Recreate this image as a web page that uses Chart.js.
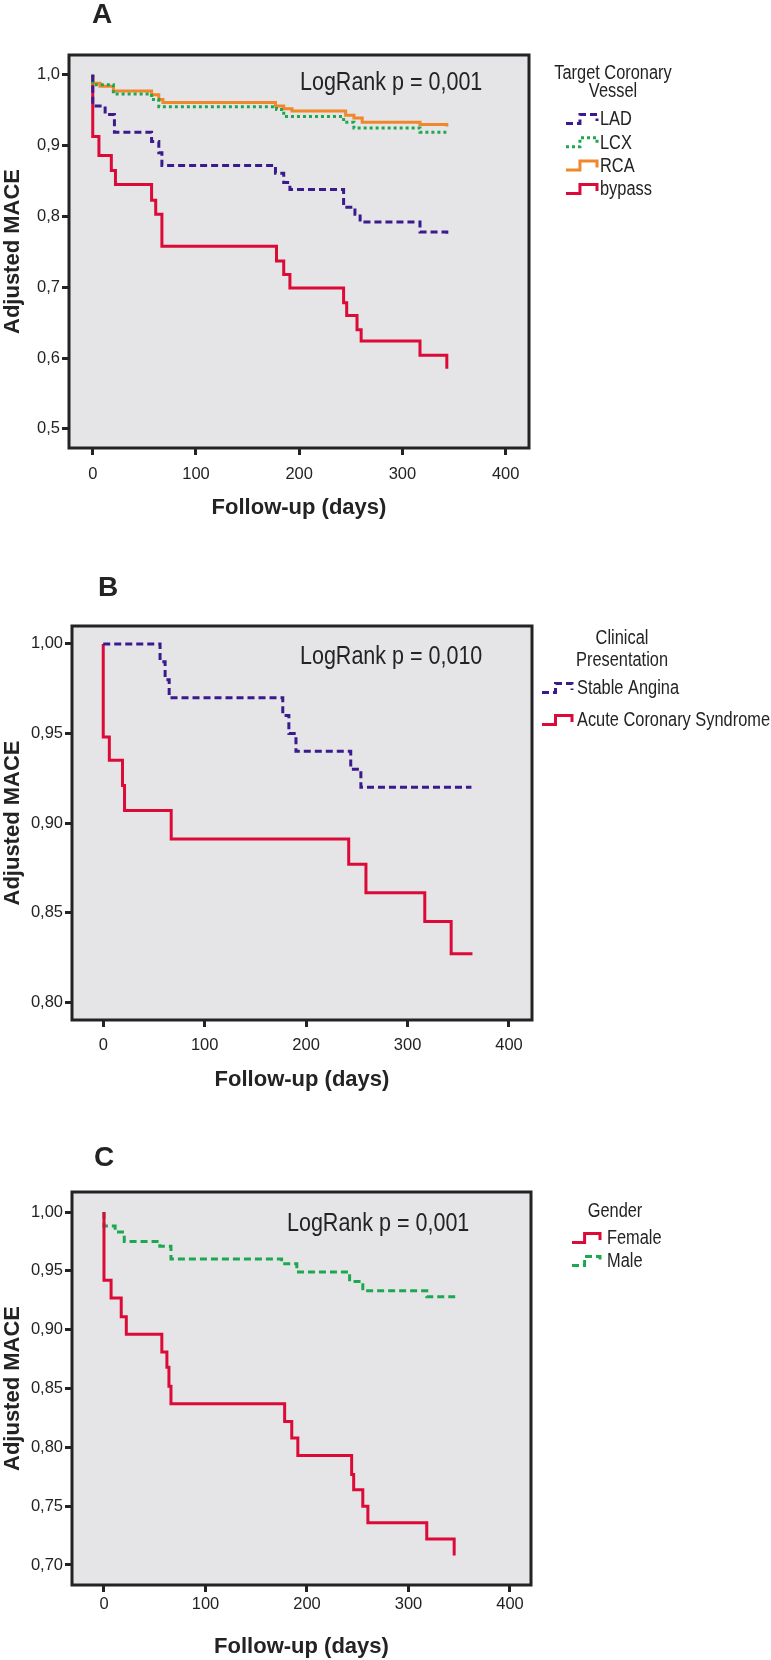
<!DOCTYPE html>
<html lang="en">
<head>
<meta charset="UTF-8">
<title>Adjusted MACE - follow-up</title>
<script src="https://cdn.jsdelivr.net/npm/chart.js"></script>
<style>
  body { margin: 0; background: #fff; width: 771px; height: 1660px; position: relative; overflow: hidden; }
  canvas { position: absolute; left: 0; }
</style>
</head>
<body>
<canvas id="chartA" width="771" height="540" style="top:0px"></canvas>
<canvas id="chartB" width="771" height="540" style="top:560px"></canvas>
<canvas id="chartC" width="771" height="540" style="top:1120px"></canvas>
<script>
// ---- data ----
var xTicks = [0, 100, 200, 300, 400];
var xTickLabels = ['0', '100', '200', '300', '400'];

// A: target coronary vessel
var seriesA = ['LAD', 'LCX', 'RCA', 'bypass'];
var ladDays = [0, 0, 12, 21, 57, 64, 67, 177, 185, 191, 243, 254, 259, 317, 343];
var ladSurv = [1, 0.956, 0.944, 0.919, 0.906, 0.890, 0.872, 0.861, 0.848, 0.838, 0.813, 0.803, 0.792, 0.778, 0.770];
var lcxDays = [0, 0, 20, 57, 64, 178, 185, 243, 253, 317, 343];
var lcxSurv = [1, 0.986, 0.973, 0.965, 0.955, 0.951, 0.941, 0.933, 0.925, 0.919, 0.916];
var rcaDays = [0, 0, 7, 20, 57, 64, 68, 177, 185, 193, 245, 253, 261, 317, 343];
var rcaSurv = [1, 0.988, 0.984, 0.977, 0.972, 0.965, 0.961, 0.956, 0.952, 0.949, 0.943, 0.939, 0.933, 0.930, 0.927];
var bypassDays = [0, 0, 6, 18, 22, 57, 61, 67, 178, 185, 191, 243, 246, 256, 260, 317, 343];
var bypassSurv = [1, 0.913, 0.886, 0.865, 0.845, 0.823, 0.803, 0.758, 0.737, 0.718, 0.699, 0.678, 0.660, 0.640, 0.624, 0.604, 0.585];
var yTicksA = [0.5, 0.6, 0.7, 0.8, 0.9, 1.0];
var yTickLabelsA = ['0,5', '0,6', '0,7', '0,8', '0,9', '1,0'];

// B: clinical presentation
var seriesB = ['Stable Angina', 'Acute Coronary Syndrome'];
var stableDays = [0, 56, 61, 65, 177, 183, 190, 244, 254, 363];
var stableSurv = [1, 0.990, 0.980, 0.970, 0.960, 0.950, 0.940, 0.930, 0.920, 0.920];
var acsDays = [0, 0, 6, 19, 21, 67, 242, 259, 317, 343, 364];
var acsSurv = [1, 0.948, 0.935, 0.921, 0.907, 0.891, 0.877, 0.861, 0.845, 0.827, 0.827];
var yTicksB = [0.80, 0.85, 0.90, 0.95, 1.00];
var yTickLabelsB = ['0,80', '0,85', '0,90', '0,95', '1,00'];

// C: gender
var seriesC = ['Female', 'Male'];
var femaleDays = [0, 0, 7, 17, 22, 57, 62, 64, 66, 178, 185, 191, 244, 246, 255, 260, 318, 345];
var femaleSurv = [1, 0.942, 0.927, 0.911, 0.896, 0.881, 0.868, 0.852, 0.837, 0.822, 0.808, 0.793, 0.777, 0.764, 0.750, 0.736, 0.722, 0.708];
var maleDays = [0, 0, 11, 20, 55, 66, 175, 190, 242, 255, 318, 346];
var maleSurv = [1, 0.988, 0.983, 0.975, 0.971, 0.960, 0.956, 0.949, 0.941, 0.933, 0.928, 0.928];
var yTicksC = [0.70, 0.75, 0.80, 0.85, 0.90, 0.95, 1.00];
var yTickLabelsC = ['0,70', '0,75', '0,80', '0,85', '0,90', '0,95', '1,00'];

// ---- styles ----
var family = "'Liberation Sans', Arial, sans-serif";
var ink = '#232323';
var plotBg = '#e5e5e8';
var purple = 'rgb(58,26,140)';
var green = 'rgb(28,168,78)';
var orange = 'rgb(240,135,42)';
var red = 'rgb(220,10,55)';
var dashed = [7, 4];
var dotted = [3, 3];
var narrow = 0.84; // horizontal squeeze for the hand drawn labels (narrow sans look)

Chart.defaults.font.family = family;
Chart.defaults.color = ink;

function pts(days, surv) {
  return days.map(function (d, i) { return { x: d, y: surv[i] }; });
}

function km(label, days, surv, color, dash) {
  return {
    label: label,
    data: pts(days, surv),
    borderColor: color,
    borderWidth: 3,
    borderDash: dash || [],
    stepped: 'before',
    pointRadius: 0,
    fill: false
  };
}

function narrowText(ctx, text, x, y, font, align, sx) {
  ctx.save();
  ctx.translate(x, y);
  ctx.scale(sx, 1);
  ctx.font = font;
  ctx.textAlign = align;
  ctx.fillText(text, 0, 0);
  ctx.restore();
}

// frame, background, panel letter, log-rank text and the step legend
var panelDecor = {
  id: 'panelDecor',
  beforeDraw: function (chart) {
    var a = chart.chartArea, ctx = chart.ctx;
    ctx.save();
    ctx.fillStyle = plotBg;
    ctx.fillRect(a.left, a.top, a.right - a.left, a.bottom - a.top);
    ctx.restore();
  },
  afterDraw: function (chart, args, o) {
    var a = chart.chartArea, ctx = chart.ctx;
    ctx.save();
    ctx.strokeStyle = ink;
    ctx.lineWidth = 3;
    ctx.setLineDash([]);
    ctx.strokeRect(a.left, a.top, a.right - a.left, a.bottom - a.top);

    ctx.fillStyle = ink;
    ctx.textBaseline = 'middle';
    narrowText(ctx, o.letter, o.letterX, o.letterY, 'bold 28px ' + family, 'center', 1);

    ctx.textBaseline = 'alphabetic';
    narrowText(ctx, o.pText, o.pX, o.pY, '25px ' + family, 'left', 0.86);

    // legend
    ctx.textBaseline = 'middle';
    o.legTitle.forEach(function (t, i) {
      narrowText(ctx, t, o.legTitleX, o.legTitleY[i], '19.5px ' + family, 'center', narrow);
    });
    chart.data.datasets.forEach(function (ds, i) {
      var cy = o.legRowY + i * o.legRowGap;
      var x0 = o.glyphX, w = o.glyphW;
      ctx.strokeStyle = ds.borderColor;
      ctx.lineWidth = 3;
      ctx.setLineDash(ds.borderDash || []);
      ctx.beginPath();
      ctx.moveTo(x0, cy + 3.5);
      ctx.lineTo(x0 + w * 0.45, cy + 3.5);
      ctx.lineTo(x0 + w * 0.45, cy - 5.5);
      ctx.lineTo(x0 + w, cy - 5.5);
      ctx.lineTo(x0 + w, cy + 1);
      ctx.stroke();
      ctx.setLineDash([]);
      ctx.fillStyle = ink;
      narrowText(ctx, ds.label, o.textX, cy, '19.5px ' + family, 'left', narrow);
    });
    ctx.restore();
  }
};

function makeChart(id, datasets, p) {
  return new Chart(document.getElementById(id), {
    type: 'line',
    data: { datasets: datasets },
    plugins: [panelDecor],
    options: {
      responsive: false,
      animation: false,
      layout: { padding: p.padding },
      plugins: {
        legend: { display: false },
        tooltip: { enabled: false },
        panelDecor: p.decor
      },
      scales: {
        x: {
          type: 'linear',
          min: p.xMin, max: p.xMax,
          afterFit: function (axis) { axis.height = p.xHeight; },
          afterBuildTicks: function (axis) {
            axis.ticks = xTicks.map(function (v) { return { value: v }; });
          },
          ticks: {
            padding: p.xTickPad,
            font: { size: 16.5 },
            color: ink,
            callback: function (v) { return xTickLabels[xTicks.indexOf(v)]; }
          },
          grid: { drawOnChartArea: false, drawTicks: true, tickLength: 7, lineWidth: 3, color: ink },
          border: { display: false },
          title: {
            display: true,
            text: 'Follow-up (days)',
            font: { size: 22, weight: 'bold', lineHeight: 1 },
            color: ink,
            padding: { top: 0, bottom: p.xTitlePad }
          }
        },
        y: {
          type: 'linear',
          min: p.yMin, max: p.yMax,
          afterFit: function (axis) { axis.width = p.yWidth; },
          afterBuildTicks: function (axis) {
            axis.ticks = p.yTicks.map(function (v) { return { value: v }; });
          },
          ticks: {
            padding: 2,
            font: { size: 16.5 },
            color: ink,
            callback: function (v) {
              var i = p.yTicks.findIndex(function (t) { return Math.abs(t - v) < 1e-6; });
              return p.yLabels[i];
            }
          },
          grid: { drawOnChartArea: false, drawTicks: true, tickLength: 7, lineWidth: 3, color: ink },
          border: { display: false },
          title: {
            display: true,
            text: 'Adjusted MACE',
            font: { size: 22, weight: 'bold', lineHeight: 1 },
            color: ink,
            padding: { top: 2, bottom: 0 }
          }
        }
      }
    }
  });
}

makeChart('chartA', [
  km(seriesA[0], ladDays, ladSurv, purple, dashed),
  km(seriesA[1], lcxDays, lcxSurv, green, dotted),
  km(seriesA[2], rcaDays, rcaSurv, orange),
  km(seriesA[3], bypassDays, bypassSurv, red)
], {
  padding: { left: 0, right: 242, top: 55, bottom: 0 },
  xMin: -23, xMax: 422.6, yMin: 0.473, yMax: 1.028,
  xHeight: 92, yWidth: 69, xTickPad: 10, xTitlePad: 21,
  yTicks: yTicksA, yLabels: yTickLabelsA,
  decor: {
    letter: 'A', letterX: 102, letterY: 15,
    pText: 'LogRank p = 0,001', pX: 300, pY: 90,
    legTitle: ['Target Coronary', 'Vessel'], legTitleX: 613, legTitleY: [74, 92],
    legRowY: 120, legRowGap: 23.3, glyphX: 566, glyphW: 31, textX: 600
  }
});

makeChart('chartB', [
  km(seriesB[0], stableDays, stableSurv, purple, dashed),
  km(seriesB[1], acsDays, acsSurv, red)
], {
  padding: { left: 0, right: 239, top: 66, bottom: 0 },
  xMin: -30.8, xMax: 422.7, yMin: 0.790, yMax: 1.010,
  xHeight: 80, yWidth: 72, xTickPad: 8.5, xTitlePad: 9,
  yTicks: yTicksB, yLabels: yTickLabelsB,
  decor: {
    letter: 'B', letterX: 108, letterY: 28,
    pText: 'LogRank p = 0,010', pX: 300, pY: 104,
    legTitle: ['Clinical', 'Presentation'], legTitleX: 622, legTitleY: [79, 101],
    legRowY: 129, legRowGap: 32, glyphX: 542, glyphW: 30, textX: 577
  }
});

makeChart('chartC', [
  km(seriesC[0], femaleDays, femaleSurv, red),
  km(seriesC[1], maleDays, maleSurv, green, dashed)
], {
  padding: { left: 0, right: 240, top: 72, bottom: 0 },
  xMin: -31.5, xMax: 420.7, yMin: 0.683, yMax: 1.017,
  xHeight: 75, yWidth: 72, xTickPad: 2.5, xTitlePad: 2,
  yTicks: yTicksC, yLabels: yTickLabelsC,
  decor: {
    letter: 'C', letterX: 104, letterY: 38,
    pText: 'LogRank p = 0,001', pX: 287, pY: 111,
    legTitle: ['Gender'], legTitleX: 615, legTitleY: [92],
    legRowY: 119, legRowGap: 23, glyphX: 572, glyphW: 28, textX: 607
  }
});
</script>
</body>
</html>
